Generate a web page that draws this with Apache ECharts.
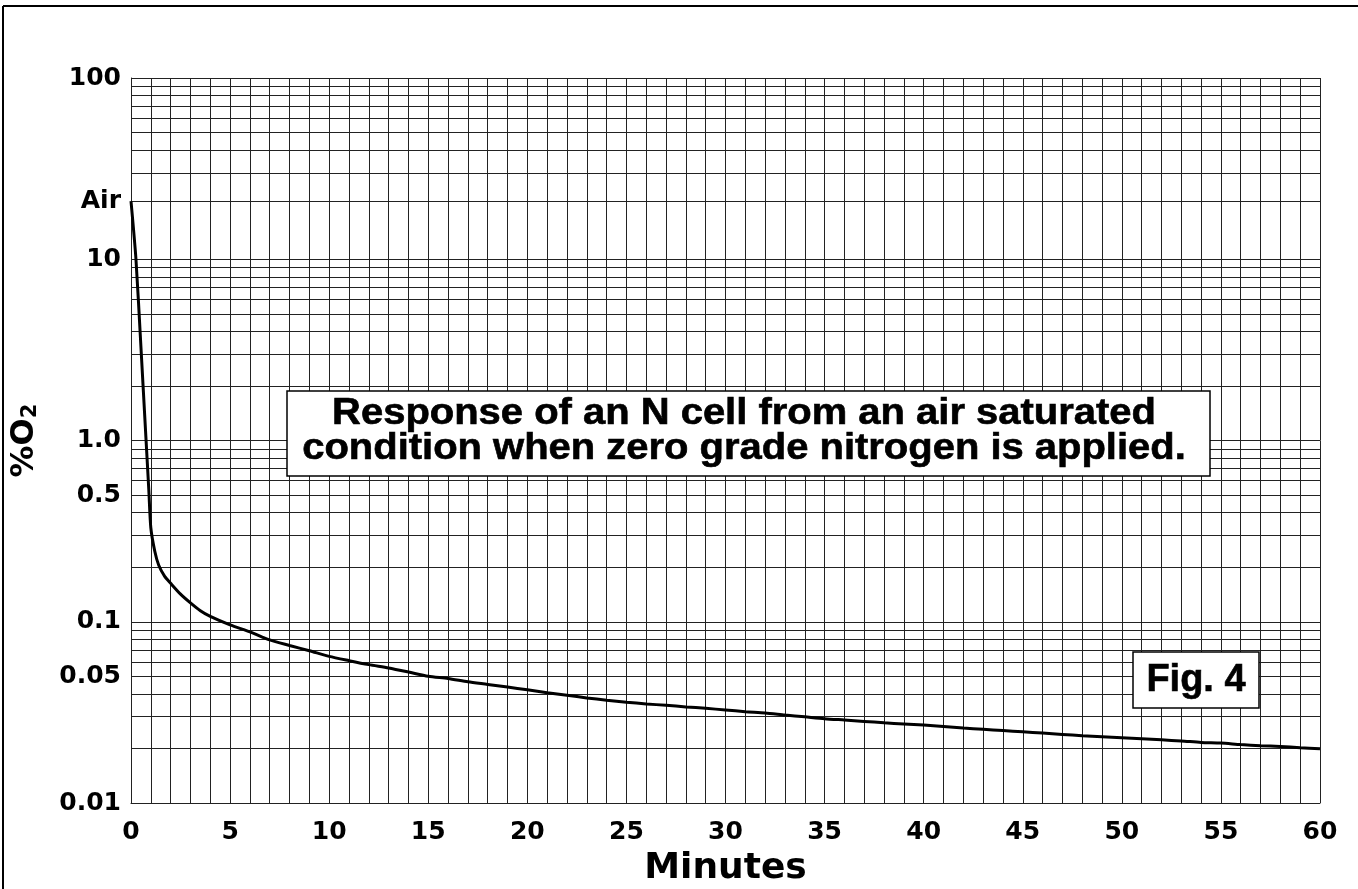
<!DOCTYPE html>
<html>
<head>
<meta charset="utf-8">
<script src="https://cdn.jsdelivr.net/npm/echarts@6/dist/echarts.min.js"></script>
<style>
  html, body { margin: 0; padding: 0; background: #fff; }
  #chart { width: 1358px; height: 889px; }
</style>
</head>
<body>
<div id="chart"></div>
<script>
// minutes after nitrogen applied
var minutes = [0, 0.25, 0.5, 0.75, 0.9, 1, 1.2, 1.4, 1.7, 2, 2.5, 3, 3.5, 4,
  5, 6, 7, 8, 9, 10, 11, 12, 13, 14, 15, 16, 17, 18, 19, 20,
  21, 22, 23, 24, 25, 26, 27, 28, 29, 30, 31, 32, 33, 34, 35, 36, 37, 38, 39, 40,
  41, 42, 43, 44, 45, 46, 47, 48, 49, 50, 51, 52, 53, 54, 55, 56, 57, 58, 59, 60];
// % O2
var oxygen = [20.9, 10, 3.3, 1.05, 0.53, 0.33, 0.245, 0.205, 0.178, 0.163, 0.142, 0.127, 0.115, 0.107,
  0.096, 0.088, 0.0794, 0.074, 0.0692, 0.0644, 0.061, 0.058, 0.0556, 0.0528, 0.050, 0.0486, 0.0466, 0.0451, 0.0436, 0.0421,
  0.0406, 0.0393, 0.0380, 0.0369, 0.0360, 0.0352, 0.0346, 0.0339, 0.0333, 0.0326, 0.0319, 0.0314, 0.0306, 0.0299, 0.0292, 0.0287, 0.0282, 0.0277, 0.0273, 0.0269,
  0.0264, 0.0259, 0.0255, 0.0251, 0.0247, 0.0243, 0.0239, 0.0235, 0.0232, 0.0229, 0.0226, 0.0223, 0.0220, 0.0216, 0.0214, 0.0210, 0.0207, 0.0205, 0.0202, 0.0199];

var yLabelValues = [0.01, 0.05, 0.1, 0.5, 1, 10, 20.9, 100];
var airLevel = 20.9;

// log grid lines: 1..9 in each decade, Air line in the top one
var gridValues = [];
[0.01, 0.1, 1].forEach(function (d) {
  for (var k = 1; k <= 9; k++) gridValues.push(+(d * k).toPrecision(3));
});
gridValues.push(10, airLevel, 30, 40, 50, 60, 70, 80, 90, 100);

var chart = echarts.init(document.getElementById('chart'));

var lblFont = {
  color: '#000',
  fontFamily: 'DejaVu Sans',
  fontWeight: 'bold',
  fontSize: 25
};

var option = {
  backgroundColor: '#fff',
  animation: false,
  grid: { left: 131, right: 38, top: 78, bottom: 86, outerBoundsMode: 'none', containLabel: false },
  xAxis: {
    type: 'value',
    min: 0,
    max: 60,
    interval: 1,
    name: 'Minutes',
    nameLocation: 'middle',
    nameGap: 48,
    nameTextStyle: { color: '#000', fontFamily: 'DejaVu Sans', fontWeight: 'bold', fontSize: 36 },
    axisLine: { show: true, lineStyle: { color: '#222', width: 1 } },
    axisTick: { show: false },
    axisLabel: Object.assign({
      margin: 17,
      formatter: function (v) { return v % 5 === 0 ? String(v) : ''; }
    }, lblFont),
    splitLine: { show: true, lineStyle: { color: '#222', width: 1 } }
  },
  yAxis: {
    type: 'log',
    logBase: 10,
    min: 0.01,
    max: 100,
    name: '{a|%O}{b|2}',
    nameLocation: 'middle',
    nameGap: 90,
    nameTextStyle: {
      rich: {
        a: { color: '#000', fontFamily: 'DejaVu Sans', fontWeight: 'bold', fontSize: 32 },
        b: { color: '#000', fontFamily: 'DejaVu Sans', fontWeight: 'bold', fontSize: 21, verticalAlign: 'bottom' }
      }
    },
    axisLine: { show: true, lineStyle: { color: '#222', width: 1 } },
    axisTick: { show: false, customValues: gridValues },
    axisLabel: Object.assign({
      margin: 10,
      customValues: yLabelValues,
      formatter: function (v) {
        if (Math.abs(v - airLevel) < 0.01) return 'Air';
        if (v === 1) return '1.0';
        return String(v);
      }
    }, lblFont),
    splitLine: { show: true, lineStyle: { color: '#222', width: 1 } }
  },
  series: [{
    type: 'line',
    data: minutes.map(function (t, i) { return [t, oxygen[i]]; }),
    showSymbol: false,
    smooth: 0.25,
    lineStyle: { color: '#000', width: 3 },
    z: 5
  }],
  graphic: [
    { type: 'line', z: 100, shape: { x1: 3, y1: 6, x2: 1358, y2: 6 }, style: { stroke: '#000', lineWidth: 2 } },
    { type: 'line', z: 100, shape: { x1: 3, y1: 6, x2: 3, y2: 889 }, style: { stroke: '#000', lineWidth: 2 } },
    {
      type: 'rect', z: 100,
      shape: { x: 287, y: 391, width: 923, height: 85 },
      style: { fill: '#fff', stroke: '#000', lineWidth: 1.5 }
    },
    {
      type: 'text', z: 101, x: 744, y: 414, scaleX: 1.11,
      style: {
        text: 'Response of an N cell from an air saturated',
        font: 'bold 36px "Liberation Sans", Arial, sans-serif',
        fill: '#000', stroke: '#000', lineWidth: 0.6,
        textAlign: 'center', textVerticalAlign: 'middle'
      }
    },
    {
      type: 'text', z: 101, x: 744, y: 449, scaleX: 1.11,
      style: {
        text: 'condition when zero grade nitrogen is applied.',
        font: 'bold 36px "Liberation Sans", Arial, sans-serif',
        fill: '#000', stroke: '#000', lineWidth: 0.6,
        textAlign: 'center', textVerticalAlign: 'middle'
      }
    },
    {
      type: 'rect', z: 100,
      shape: { x: 1133, y: 652, width: 126, height: 56 },
      style: { fill: '#fff', stroke: '#000', lineWidth: 1.5 }
    },
    {
      type: 'text', z: 101, x: 1196, y: 681,
      style: {
        text: 'Fig. 4',
        font: 'bold 38px "Liberation Sans", Arial, sans-serif',
        fill: '#000', stroke: '#000', lineWidth: 0.6,
        textAlign: 'center', textVerticalAlign: 'middle'
      }
    }
  ]
};

chart.setOption(option);
</script>
</body>
</html>
